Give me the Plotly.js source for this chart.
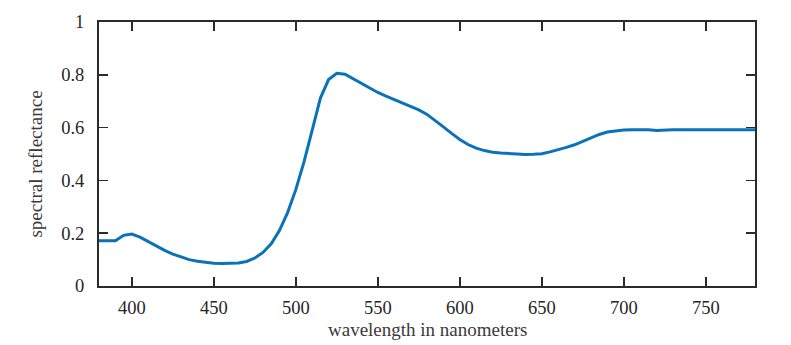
<!DOCTYPE html>
<html>
<head>
<meta charset="utf-8">
<script src="https://cdn.plot.ly/plotly-3.0.1.min.js"></script>
<style>html,body{margin:0;padding:0;background:#fff;}#chart{width:791px;height:345px;}</style>
</head>
<body>
<div id="chart"></div>
<script>
const wavelength = [380,385,390,395,400,405,410,415,420,425,430,435,440,445,450,455,460,465,470,475,480,485,490,495,500,505,510,515,520,525,530,535,540,545,550,555,560,565,570,575,580,585,590,595,600,605,610,615,620,625,630,635,640,645,650,655,660,665,670,675,680,685,690,695,700,705,710,715,720,725,730,735,740,745,750,755,760,765,770,775,780];
const reflectance = [0.171,0.171,0.171,0.192,0.197,0.185,0.168,0.149,0.135,0.121,0.109,0.100,0.094,0.089,0.086,0.085,0.085,0.087,0.093,0.106,0.127,0.160,0.210,0.278,0.365,0.470,0.590,0.712,0.782,0.806,0.802,0.785,0.766,0.749,0.733,0.719,0.706,0.694,0.683,0.667,0.650,0.628,0.603,0.578,0.555,0.536,0.522,0.513,0.507,0.504,0.502,0.499,0.498,0.499,0.501,0.508,0.516,0.525,0.535,0.548,0.562,0.574,0.583,0.588,0.591,0.592,0.592,0.592,0.589,0.591,0.592,0.592,0.592,0.592,0.592,0.592,0.592,0.592,0.592,0.592,0.592];
const xTicks = [400,450,500,550,600,650,700,750];
const yTicks = [0,0.2,0.4,0.6,0.8,1];
const yTickText = ['0','0.2','0.4','0.6','0.8','1'];
const xTitle = 'wavelength in nanometers';
const yTitle = 'spectral reflectance';

const font = 'Liberation Serif, Times New Roman, serif';
const trace = {
  x: wavelength, y: reflectance, type: 'scatter', mode: 'lines',
  line: {color: '#0a72ba', width: 3}, hoverinfo: 'skip'
};
const axisCommon = {
  showline: true, linecolor: '#2b2b2b', linewidth: 2, mirror: 'allticks',
  ticks: 'inside', ticklen: 9, tickwidth: 1.5, tickcolor: '#2b2b2b',
  showgrid: false, zeroline: false,
  tickfont: {family: font, size: 18.5, color: '#262626'}
};
const layout = {
  width: 791, height: 345,
  margin: {l: 99, r: 36, t: 22, b: 59, pad: 0},
  paper_bgcolor: '#fff', plot_bgcolor: '#fff',
  showlegend: false,
  xaxis: Object.assign({}, axisCommon, {range: [380, 780], tickvals: xTicks, ticklabelstandoff: 4}),
  yaxis: Object.assign({}, axisCommon, {range: [0, 1], tickvals: yTicks, ticktext: yTickText, ticklabelstandoff: 9}),
  annotations: [
    {text: xTitle, xref: 'paper', yref: 'paper', x: 0.5, y: 0, yshift: -31, xanchor: 'center', yanchor: 'top',
     showarrow: false, font: {family: font, size: 19, color: '#3a3a3a'}},
    {text: yTitle, xref: 'paper', yref: 'paper', x: 0, xshift: -63, y: 0.46, xanchor: 'center', yanchor: 'middle',
     textangle: -90, showarrow: false, font: {family: font, size: 19, color: '#3a3a3a'}}
  ]
};
Plotly.newPlot('chart', [trace], layout, {staticPlot: true, displayModeBar: false});
</script>
</body>
</html>
